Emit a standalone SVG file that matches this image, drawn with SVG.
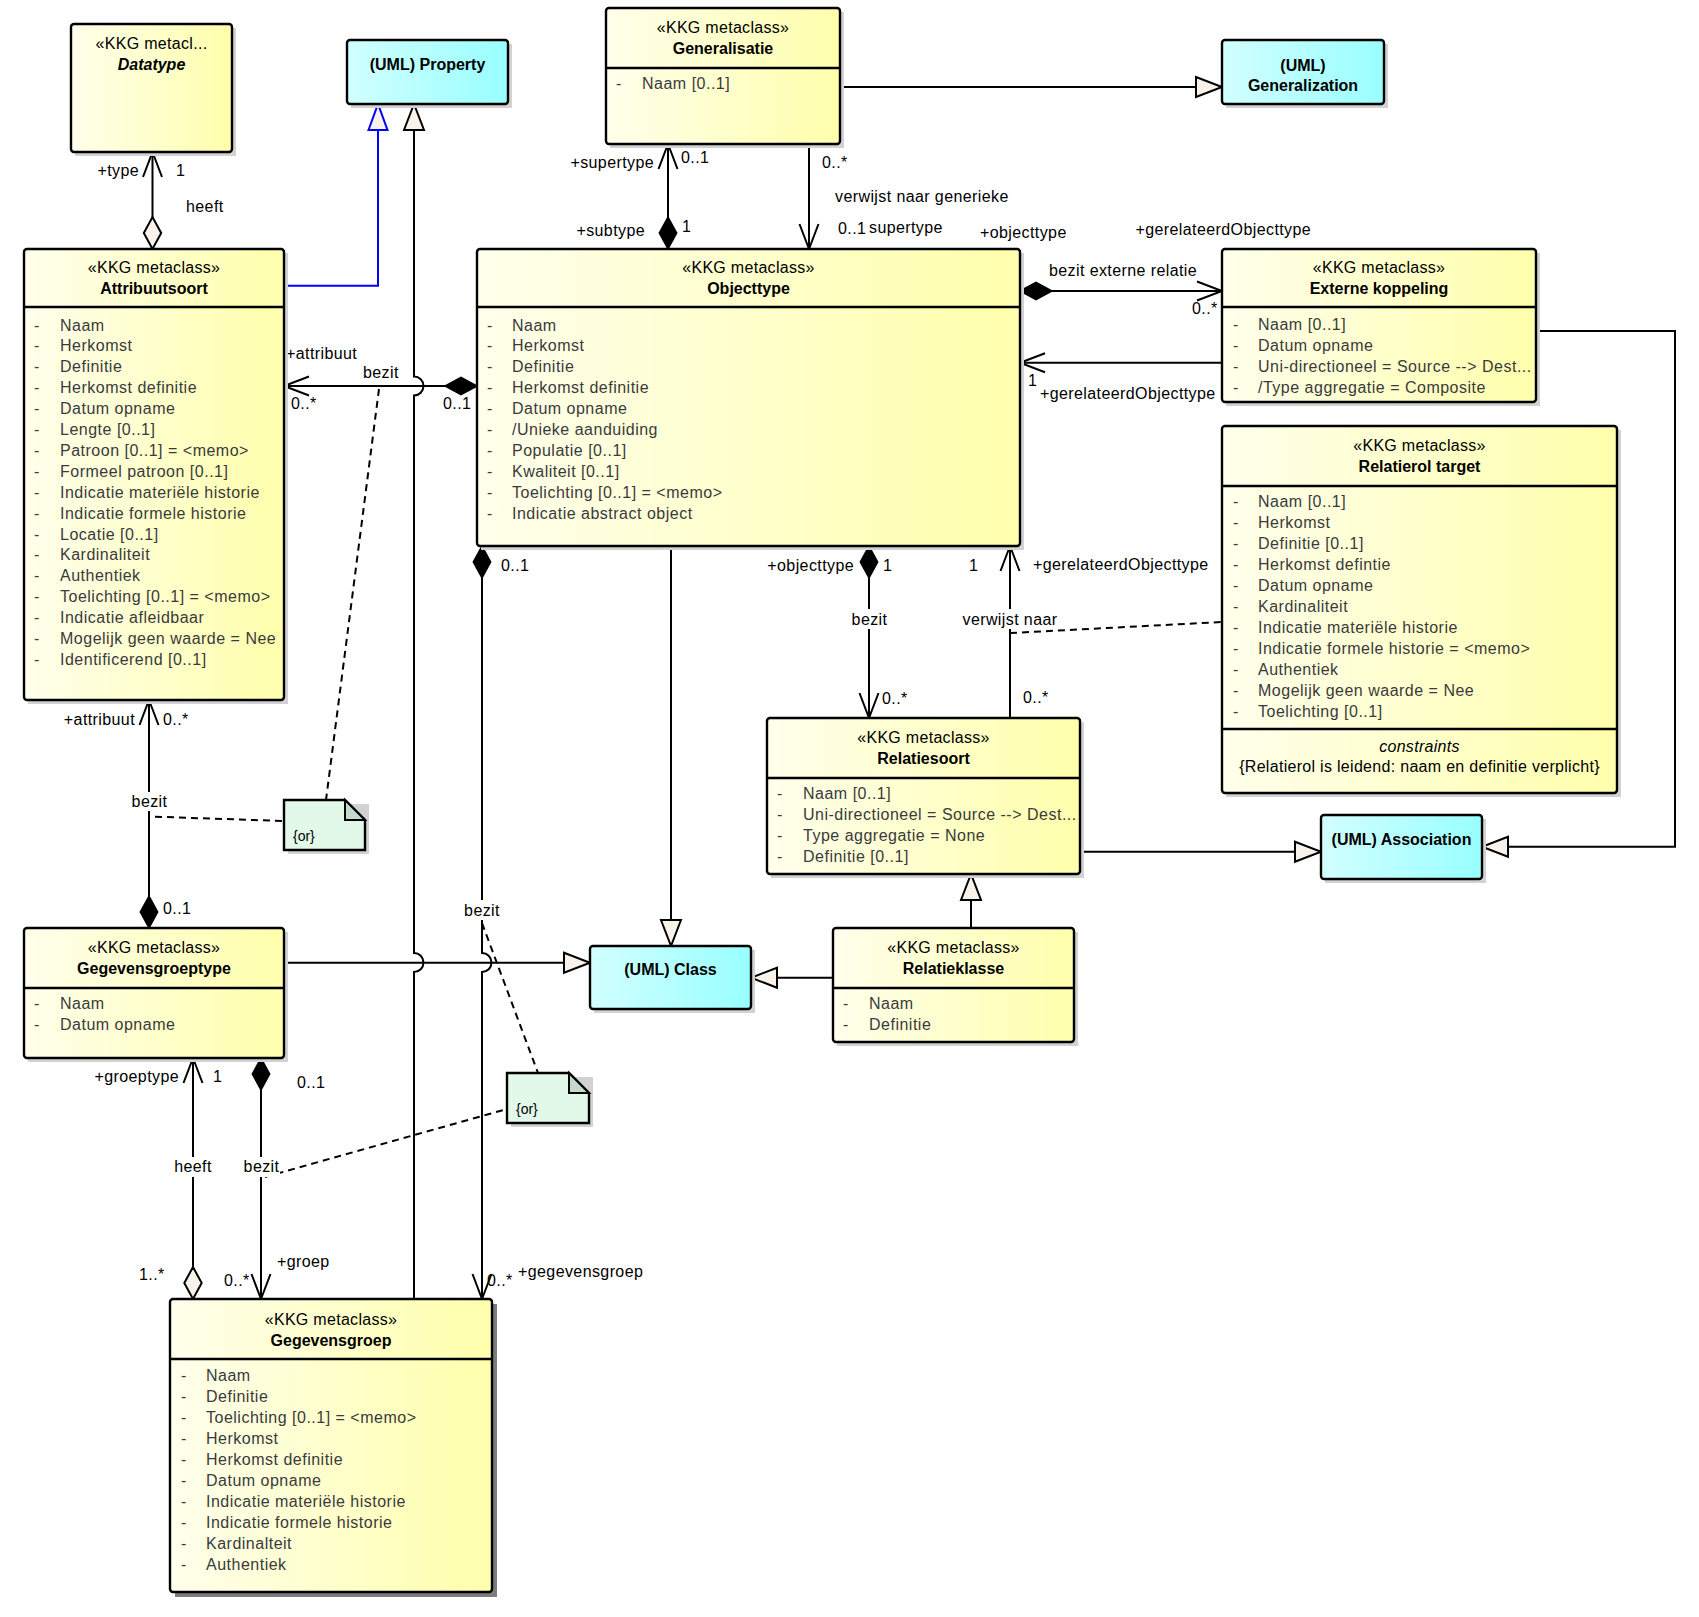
<svg xmlns="http://www.w3.org/2000/svg" width="1699" height="1617" viewBox="0 0 1699 1617">
<defs>
<linearGradient id="gy" x1="0" y1="0" x2="1" y2="0"><stop offset="0" stop-color="#FFFFEC"/><stop offset="1" stop-color="#FFFFAC"/></linearGradient>
<linearGradient id="gc" x1="0" y1="0" x2="1" y2="0"><stop offset="0" stop-color="#D2FFFF"/><stop offset="1" stop-color="#99FFFF"/></linearGradient>
<marker id="open" markerUnits="userSpaceOnUse" markerWidth="30" markerHeight="24" viewBox="-27 -12 29 24" refX="0" refY="0" orient="auto" overflow="visible"><path d="M-25,-9.5 L0,0 L-25,9.5" fill="none" stroke="#000" stroke-width="2"/></marker>
<marker id="tri" markerUnits="userSpaceOnUse" markerWidth="30" markerHeight="24" viewBox="-28 -12 30 24" refX="0" refY="0" orient="auto" overflow="visible"><path d="M-26,-10 L0,0 L-26,10 Z" fill="#F8F2EA" stroke="#000" stroke-width="2"/></marker>
<marker id="triB" markerUnits="userSpaceOnUse" markerWidth="30" markerHeight="24" viewBox="-28 -12 30 24" refX="0" refY="0" orient="auto" overflow="visible"><path d="M-26,-9.5 L0,0 L-26,9.5 Z" fill="#F8F2EA" stroke="#0000FF" stroke-width="2"/></marker>
<marker id="dia" markerUnits="userSpaceOnUse" markerWidth="36" markerHeight="20" viewBox="-2 -10 36 20" refX="0" refY="0" orient="auto" overflow="visible"><path d="M0,0 L16,-8.7 L32,0 L16,8.7 Z" fill="#000" stroke="#000" stroke-width="1.5"/></marker>
<marker id="diaH" markerUnits="userSpaceOnUse" markerWidth="36" markerHeight="20" viewBox="-2 -10 36 20" refX="0" refY="0" orient="auto" overflow="visible"><path d="M0,0 L16,-8.7 L32,0 L16,8.7 Z" fill="#F8F2EA" stroke="#000" stroke-width="2"/></marker>
</defs>
<style>
text { font-family: 'Liberation Sans', Arial, sans-serif; font-size: 16px; }
.sh { fill: #d2d2d2; }
.shd { fill: #7c7c7c; }
.bx { stroke: #000; stroke-width: 2.4; }
.y { fill: url(#gy); }
.c { fill: url(#gc); }
.dv { stroke: #000; stroke-width: 2.4; }
.st { text-anchor: middle; fill: #000; letter-spacing: 0.3px; }
.ti { text-anchor: middle; font-weight: bold; fill: #000; }
.at { fill: #3a3a3a; letter-spacing: 0.5px; }
.lb { fill: #000; letter-spacing: 0.4px; }
.lbe { fill: #000; letter-spacing: 0.4px; text-anchor: end; }
.lbm { fill: #000; letter-spacing: 0.4px; text-anchor: middle; }
.ln { stroke: #000; stroke-width: 2; fill: none; }
.blue { stroke: #0000FF; stroke-width: 2; fill: none; }
.dl { stroke: #000; stroke-width: 2; fill: none; stroke-dasharray: 7 5; }
.wb { fill: #fff; }
.nt { fill: #E2F9EA; stroke: #000; stroke-width: 2.4; }
.fold { fill: #C4D8CC; stroke: #000; stroke-width: 2; }
.or { font-size: 14px; fill: #000; }
</style>
<rect width="1699" height="1617" fill="#fff"/>

<g id="connectors">
<path class="ln" d="M152.5,249 V152" marker-start="url(#diaH)" marker-end="url(#open)"/>
<path class="blue" d="M284,285.7 H378 V104" marker-end="url(#triB)"/>
<path class="ln" d="M414,1299 V972 A9.5,9.5 0 0 0 414,953 V395.5 A9.5,9.5 0 0 0 414,376.5 V104" marker-end="url(#tri)"/>
<path class="ln" d="M477,386 H284" marker-start="url(#dia)" marker-end="url(#open)"/>
<path class="ln" d="M149,928 V700" marker-start="url(#dia)" marker-end="url(#open)"/>
<path class="ln" d="M284,962.7 H590" marker-end="url(#tri)"/>
<path class="ln" d="M482,546 V953 A9.5,9.5 0 0 1 482,972 V1299" marker-start="url(#dia)" marker-end="url(#open)"/>
<path class="ln" d="M193,1299 V1058" marker-start="url(#diaH)" marker-end="url(#open)"/>
<path class="ln" d="M261,1058 V1299" marker-start="url(#dia)" marker-end="url(#open)"/>
<path class="ln" d="M840,87 H1222" marker-end="url(#tri)"/>
<path class="ln" d="M668,249 V144" marker-start="url(#dia)" marker-end="url(#open)"/>
<path class="ln" d="M809,144 V249" marker-end="url(#open)"/>
<path class="ln" d="M1020,291 H1222" marker-start="url(#dia)" marker-end="url(#open)"/>
<path class="ln" d="M1222,362.7 H1020" marker-end="url(#open)"/>
<path class="ln" d="M869,546 V718" marker-start="url(#dia)" marker-end="url(#open)"/>
<path class="ln" d="M1010,718 V546" marker-end="url(#open)"/>
<path class="ln" d="M671,546 V946" marker-end="url(#tri)"/>
<path class="ln" d="M971,928 V874" marker-end="url(#tri)"/>
<path class="ln" d="M833,977.7 H751" marker-end="url(#tri)"/>
<path class="ln" d="M1080,851.7 H1321" marker-end="url(#tri)"/>
<path class="ln" d="M1536,331 H1675 V846.7 H1482" marker-end="url(#tri)"/>
<path class="dl" d="M379,389 L326,800"/>
<path class="dl" d="M155,816.7 L284,821"/>
<path class="dl" d="M482,923 L538,1073"/>
<path class="dl" d="M265,1177 L507,1109"/>
<path class="dl" d="M1010,633 L1222,622"/>
<rect class="wb" x="130" y="792" width="39" height="19"/>
<rect class="wb" x="463" y="900" width="38" height="20"/>
<rect class="wb" x="172" y="1157" width="41" height="20"/>
<rect class="wb" x="243" y="1157" width="37" height="20"/>
<rect class="wb" x="850" y="609" width="39" height="20"/>
<rect class="wb" x="961" y="609" width="98" height="20"/>
<text class="lbe" x="139" y="176">+type</text>
<text class="lb" x="176" y="176">1</text>
<text class="lb" x="186" y="212">heeft</text>
<text class="lb" x="286" y="359">+attribuut</text>
<text class="lb" x="363" y="378">bezit</text>
<text class="lb" x="291" y="409">0..*</text>
<text class="lb" x="443" y="409">0..1</text>
<text class="lbe" x="135" y="725">+attribuut</text>
<text class="lb" x="163" y="725">0..*</text>
<text class="lbm" x="149.5" y="807">bezit</text>
<text class="lb" x="163" y="914">0..1</text>
<text class="lb" x="501" y="570.5">0..1</text>
<text class="lbm" x="482" y="915.5">bezit</text>
<text class="lb" x="487" y="1286">0..*</text>
<text class="lb" x="518" y="1277">+gegevensgroep</text>
<text class="lbe" x="179" y="1082">+groeptype</text>
<text class="lb" x="213" y="1082">1</text>
<text class="lbm" x="193" y="1172">heeft</text>
<text class="lb" x="139" y="1280">1..*</text>
<text class="lb" x="297" y="1088">0..1</text>
<text class="lbm" x="261.5" y="1172">bezit</text>
<text class="lb" x="277" y="1266.5">+groep</text>
<text class="lb" x="224" y="1286">0..*</text>
<text class="lbe" x="654" y="168">+supertype</text>
<text class="lb" x="681" y="163">0..1</text>
<text class="lbe" x="645" y="236">+subtype</text>
<text class="lb" x="682" y="231.5">1</text>
<text class="lb" x="822" y="168">0..*</text>
<text class="lb" x="835" y="202">verwijst naar generieke</text>
<text class="lb" x="838" y="234">0..1</text>
<text class="lb" x="869" y="233">supertype</text>
<text class="lb" x="980" y="238">+objecttype</text>
<text class="lb" x="1135.5" y="235">+gerelateerdObjecttype</text>
<text class="lb" x="1049" y="275.5">bezit externe relatie</text>
<text class="lb" x="1192" y="314">0..*</text>
<text class="lb" x="1028" y="385.5">1</text>
<text class="lb" x="1040" y="399">+gerelateerdObjecttype</text>
<text class="lbe" x="854" y="570.5">+objecttype</text>
<text class="lb" x="883" y="570.5">1</text>
<text class="lbm" x="869.5" y="625">bezit</text>
<text class="lb" x="882" y="704">0..*</text>
<text class="lb" x="969" y="570.5">1</text>
<text class="lb" x="1033" y="570">+gerelateerdObjecttype</text>
<text class="lbm" x="1010" y="625">verwijst naar</text>
<text class="lb" x="1023" y="703">0..*</text>
</g>

<g id="Datatype">
<rect class="sh" x="75" y="28" width="161" height="128"/>
<rect class="bx y" x="71" y="24" width="161" height="128" rx="3"/>
<text class="st" x="151.5" y="49">«KKG metacl...</text>
<text class="ti" x="151.5" y="70" font-style="italic">Datatype</text>
</g>

<g id="UMLProperty">
<rect class="sh" x="351" y="44" width="161" height="64"/>
<rect class="bx c" x="347" y="40" width="161" height="64" rx="3"/>
<text class="ti" x="427.5" y="70">(UML) Property</text>
</g>

<g id="Generalisatie">
<rect class="sh" x="610" y="12" width="234" height="136"/>
<rect class="bx y" x="606" y="8" width="234" height="136" rx="3"/>
<line class="dv" x1="606" y1="68" x2="840" y2="68"/>
<text class="st" x="723" y="33">«KKG metaclass»</text>
<text class="ti" x="723" y="54">Generalisatie</text>
<text class="at" x="616" y="89">-</text>
<text class="at" x="642" y="89">Naam [0..1]</text>
</g>

<g id="UMLGeneralization">
<rect class="sh" x="1226" y="44" width="162" height="64"/>
<rect class="bx c" x="1222" y="40" width="162" height="64" rx="3"/>
<text class="ti" x="1303" y="71">(UML)</text>
<text class="ti" x="1303" y="91">Generalization</text>
</g>

<g id="Attribuutsoort">
<rect class="sh" x="28" y="253" width="260" height="451"/>
<rect class="bx y" x="24" y="249" width="260" height="451" rx="3"/>
<line class="dv" x1="24" y1="307" x2="284" y2="307"/>
<text class="st" x="154" y="273">«KKG metaclass»</text>
<text class="ti" x="154" y="294">Attribuutsoort</text>
<text class="at" y="330.5"><tspan x="34">-</tspan><tspan x="34" dy="20.9">-</tspan><tspan x="34" dy="20.9">-</tspan><tspan x="34" dy="20.9">-</tspan><tspan x="34" dy="20.9">-</tspan><tspan x="34" dy="20.9">-</tspan><tspan x="34" dy="20.9">-</tspan><tspan x="34" dy="20.9">-</tspan><tspan x="34" dy="20.9">-</tspan><tspan x="34" dy="20.9">-</tspan><tspan x="34" dy="20.9">-</tspan><tspan x="34" dy="20.9">-</tspan><tspan x="34" dy="20.9">-</tspan><tspan x="34" dy="20.9">-</tspan><tspan x="34" dy="20.9">-</tspan><tspan x="34" dy="20.9">-</tspan><tspan x="34" dy="20.9">-</tspan></text>
<text class="at" y="330.5"><tspan x="60">Naam</tspan><tspan x="60" dy="20.9">Herkomst</tspan><tspan x="60" dy="20.9">Definitie</tspan><tspan x="60" dy="20.9">Herkomst definitie</tspan><tspan x="60" dy="20.9">Datum opname</tspan><tspan x="60" dy="20.9">Lengte [0..1]</tspan><tspan x="60" dy="20.9">Patroon [0..1] = &lt;memo&gt;</tspan><tspan x="60" dy="20.9">Formeel patroon [0..1]</tspan><tspan x="60" dy="20.9">Indicatie materiële historie</tspan><tspan x="60" dy="20.9">Indicatie formele historie</tspan><tspan x="60" dy="20.9">Locatie [0..1]</tspan><tspan x="60" dy="20.9">Kardinaliteit</tspan><tspan x="60" dy="20.9">Authentiek</tspan><tspan x="60" dy="20.9">Toelichting [0..1] = &lt;memo&gt;</tspan><tspan x="60" dy="20.9">Indicatie afleidbaar</tspan><tspan x="60" dy="20.9">Mogelijk geen waarde = Nee</tspan><tspan x="60" dy="20.9">Identificerend [0..1]</tspan></text>
</g>

<g id="Objecttype">
<rect class="sh" x="481" y="253" width="543" height="297"/>
<rect class="bx y" x="477" y="249" width="543" height="297" rx="3"/>
<line class="dv" x1="477" y1="307" x2="1020" y2="307"/>
<text class="st" x="748.5" y="273">«KKG metaclass»</text>
<text class="ti" x="748.5" y="294">Objecttype</text>
<text class="at" y="330.5"><tspan x="487">-</tspan><tspan x="487" dy="20.9">-</tspan><tspan x="487" dy="20.9">-</tspan><tspan x="487" dy="20.9">-</tspan><tspan x="487" dy="20.9">-</tspan><tspan x="487" dy="20.9">-</tspan><tspan x="487" dy="20.9">-</tspan><tspan x="487" dy="20.9">-</tspan><tspan x="487" dy="20.9">-</tspan><tspan x="487" dy="20.9">-</tspan></text>
<text class="at" y="330.5"><tspan x="512">Naam</tspan><tspan x="512" dy="20.9">Herkomst</tspan><tspan x="512" dy="20.9">Definitie</tspan><tspan x="512" dy="20.9">Herkomst definitie</tspan><tspan x="512" dy="20.9">Datum opname</tspan><tspan x="512" dy="20.9">/Unieke aanduiding</tspan><tspan x="512" dy="20.9">Populatie [0..1]</tspan><tspan x="512" dy="20.9">Kwaliteit [0..1]</tspan><tspan x="512" dy="20.9">Toelichting [0..1] = &lt;memo&gt;</tspan><tspan x="512" dy="20.9">Indicatie abstract object</tspan></text>
</g>

<g id="ExterneKoppeling">
<rect class="sh" x="1226" y="253" width="314" height="153"/>
<rect class="bx y" x="1222" y="249" width="314" height="153" rx="3"/>
<line class="dv" x1="1222" y1="307" x2="1536" y2="307"/>
<text class="st" x="1379" y="273">«KKG metaclass»</text>
<text class="ti" x="1379" y="294">Externe koppeling</text>
<text class="at" y="330"><tspan x="1233">-</tspan><tspan x="1233" dy="21">-</tspan><tspan x="1233" dy="21">-</tspan><tspan x="1233" dy="21">-</tspan></text>
<text class="at" y="330"><tspan x="1258">Naam [0..1]</tspan><tspan x="1258" dy="21">Datum opname</tspan><tspan x="1258" dy="21">Uni-directioneel = Source --&gt; Dest...</tspan><tspan x="1258" dy="21">/Type aggregatie = Composite</tspan></text>
</g>

<g id="RelatierolTarget">
<rect class="sh" x="1226" y="430" width="395" height="367"/>
<rect class="bx y" x="1222" y="426" width="395" height="367" rx="3"/>
<line class="dv" x1="1222" y1="486" x2="1617" y2="486"/>
<line class="dv" x1="1222" y1="729" x2="1617" y2="729"/>
<text class="st" x="1419.5" y="451">«KKG metaclass»</text>
<text class="ti" x="1419.5" y="472">Relatierol target</text>
<text class="at" y="507"><tspan x="1233">-</tspan><tspan x="1233" dy="21">-</tspan><tspan x="1233" dy="21">-</tspan><tspan x="1233" dy="21">-</tspan><tspan x="1233" dy="21">-</tspan><tspan x="1233" dy="21">-</tspan><tspan x="1233" dy="21">-</tspan><tspan x="1233" dy="21">-</tspan><tspan x="1233" dy="21">-</tspan><tspan x="1233" dy="21">-</tspan><tspan x="1233" dy="21">-</tspan></text>
<text class="at" y="507"><tspan x="1258">Naam [0..1]</tspan><tspan x="1258" dy="21">Herkomst</tspan><tspan x="1258" dy="21">Definitie [0..1]</tspan><tspan x="1258" dy="21">Herkomst defintie</tspan><tspan x="1258" dy="21">Datum opname</tspan><tspan x="1258" dy="21">Kardinaliteit</tspan><tspan x="1258" dy="21">Indicatie materiële historie</tspan><tspan x="1258" dy="21">Indicatie formele historie = &lt;memo&gt;</tspan><tspan x="1258" dy="21">Authentiek</tspan><tspan x="1258" dy="21">Mogelijk geen waarde = Nee</tspan><tspan x="1258" dy="21">Toelichting [0..1]</tspan></text>
<text class="st" x="1419.5" y="752" font-style="italic" fill="#000">constraints</text>
<text class="st" x="1419.5" y="772" fill="#000">{Relatierol is leidend: naam en definitie verplicht}</text>
</g>

<g id="Relatiesoort">
<rect class="sh" x="771" y="722" width="313" height="156"/>
<rect class="bx y" x="767" y="718" width="313" height="156" rx="3"/>
<line class="dv" x1="767" y1="778" x2="1080" y2="778"/>
<text class="st" x="923.5" y="743">«KKG metaclass»</text>
<text class="ti" x="923.5" y="764">Relatiesoort</text>
<text class="at" y="799"><tspan x="777">-</tspan><tspan x="777" dy="21">-</tspan><tspan x="777" dy="21">-</tspan><tspan x="777" dy="21">-</tspan></text>
<text class="at" y="799"><tspan x="803">Naam [0..1]</tspan><tspan x="803" dy="21">Uni-directioneel = Source --&gt; Dest...</tspan><tspan x="803" dy="21">Type aggregatie = None</tspan><tspan x="803" dy="21">Definitie [0..1]</tspan></text>
</g>

<g id="Relatieklasse">
<rect class="sh" x="837" y="932" width="241" height="114"/>
<rect class="bx y" x="833" y="928" width="241" height="114" rx="3"/>
<line class="dv" x1="833" y1="988" x2="1074" y2="988"/>
<text class="st" x="953.5" y="953">«KKG metaclass»</text>
<text class="ti" x="953.5" y="974">Relatieklasse</text>
<text class="at" y="1009"><tspan x="843">-</tspan><tspan x="843" dy="21">-</tspan></text>
<text class="at" y="1009"><tspan x="869">Naam</tspan><tspan x="869" dy="21">Definitie</tspan></text>
</g>

<g id="UMLClass">
<rect class="sh" x="594" y="950" width="161" height="63"/>
<rect class="bx c" x="590" y="946" width="161" height="63" rx="3"/>
<text class="ti" x="670.5" y="975">(UML) Class</text>
</g>

<g id="UMLAssociation">
<rect class="sh" x="1325" y="819" width="161" height="64"/>
<rect class="bx c" x="1321" y="815" width="161" height="64" rx="3"/>
<text class="ti" x="1401.5" y="845">(UML) Association</text>
</g>

<g id="Gegevensgroeptype">
<rect class="sh" x="28" y="932" width="260" height="130"/>
<rect class="bx y" x="24" y="928" width="260" height="130" rx="3"/>
<line class="dv" x1="24" y1="988" x2="284" y2="988"/>
<text class="st" x="154" y="953">«KKG metaclass»</text>
<text class="ti" x="154" y="974">Gegevensgroeptype</text>
<text class="at" y="1009"><tspan x="34">-</tspan><tspan x="34" dy="21">-</tspan></text>
<text class="at" y="1009"><tspan x="60">Naam</tspan><tspan x="60" dy="21">Datum opname</tspan></text>
</g>

<g id="Gegevensgroep">
<rect class="shd" x="175" y="1304" width="322" height="293"/>
<rect class="bx y" x="170" y="1299" width="322" height="293" rx="3"/>
<line class="dv" x1="170" y1="1359" x2="492" y2="1359"/>
<text class="st" x="331" y="1325">«KKG metaclass»</text>
<text class="ti" x="331" y="1346">Gegevensgroep</text>
<text class="at" y="1381"><tspan x="181">-</tspan><tspan x="181" dy="21">-</tspan><tspan x="181" dy="21">-</tspan><tspan x="181" dy="21">-</tspan><tspan x="181" dy="21">-</tspan><tspan x="181" dy="21">-</tspan><tspan x="181" dy="21">-</tspan><tspan x="181" dy="21">-</tspan><tspan x="181" dy="21">-</tspan><tspan x="181" dy="21">-</tspan></text>
<text class="at" y="1381"><tspan x="206">Naam</tspan><tspan x="206" dy="21">Definitie</tspan><tspan x="206" dy="21">Toelichting [0..1] = &lt;memo&gt;</tspan><tspan x="206" dy="21">Herkomst</tspan><tspan x="206" dy="21">Herkomst definitie</tspan><tspan x="206" dy="21">Datum opname</tspan><tspan x="206" dy="21">Indicatie materiële historie</tspan><tspan x="206" dy="21">Indicatie formele historie</tspan><tspan x="206" dy="21">Kardinalteit</tspan><tspan x="206" dy="21">Authentiek</tspan></text>
</g>

<g id="Note1">
<path class="sh" d="M288,804 H369 V854 H288 Z"/>
<path class="nt" d="M284,800 H345 L365,820 V850 H284 Z"/>
<path class="fold" d="M345,800 V820 H365 Z"/>
<text class="or" x="293" y="840.5">{or}</text>
</g>

<g id="Note2">
<path class="sh" d="M511,1077 H593 V1127 H511 Z"/>
<path class="nt" d="M507,1073 H569 L589,1093 V1123 H507 Z"/>
<path class="fold" d="M569,1073 V1093 H589 Z"/>
<text class="or" x="516" y="1113.5">{or}</text>
</g>
</svg>
